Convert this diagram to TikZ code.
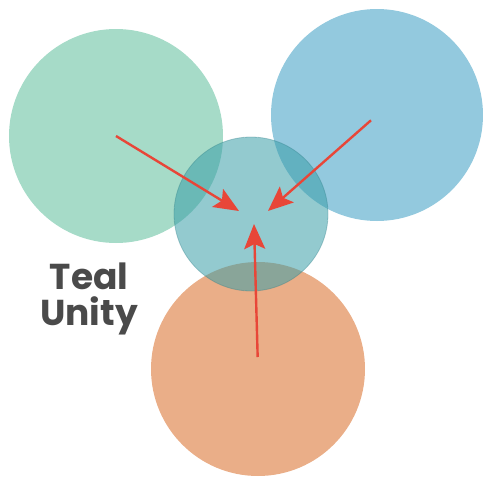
\documentclass[tikz,border=0pt]{standalone}
\usepackage{fontspec}
\setmainfont{Poppins}
\usepackage{xcolor}
\usetikzlibrary{arrows.meta,positioning}
\definecolor{tealgreen}{RGB}{166,219,200}
\definecolor{tealblue}{RGB}{147,201,222}
\definecolor{tealorange}{RGB}{234,174,136}
\definecolor{tealmid}{RGB}{58,158,168}
\definecolor{tealred}{RGB}{232,70,56}
\definecolor{tealtext}{RGB}{74,74,74}

\begin{document}
\begin{tikzpicture}[
    x=1pt, y=-1pt,
    bigdisc/.style={circle, minimum size=214pt, inner sep=0pt},
    middisc/.style={circle, minimum size=154pt, inner sep=0pt, fill=tealmid, fill opacity=0.55, draw=tealmid!80!black, draw opacity=0.35, line width=0.8pt},
    arrow/.style={-{Stealth[length=25pt,width=21pt,inset=5pt]}, line width=2.4pt, tealred}
]
    \useasboundingbox (0,0) rectangle (483,479);

    \node[bigdisc, fill=tealgreen] (green) at (116,136) {};
    \node[bigdisc, fill=tealblue, minimum size=212pt] (blue) at (377,115) {};
    \node[bigdisc, fill=tealorange] (orange) at (258,369) {};
    \node[middisc] (mid) at (251,214) {};

    \coordinate (tipg) at (239,211);
    \coordinate (tipb) at (268,211);
    \coordinate (tipo) at (254,224);

    \draw[arrow] (green.center) -- (tipg);
    \draw[arrow, shorten <=8pt] (blue.center) -- (tipb);
    \draw[arrow, shorten <=12pt] (orange.center) -- (tipo);

    \node[font=\fontsize{36}{36}\selectfont\bfseries, text=tealtext, align=center, anchor=base] (label) at (89,325) {Teal\\Unity};
\end{tikzpicture}
\end{document}
